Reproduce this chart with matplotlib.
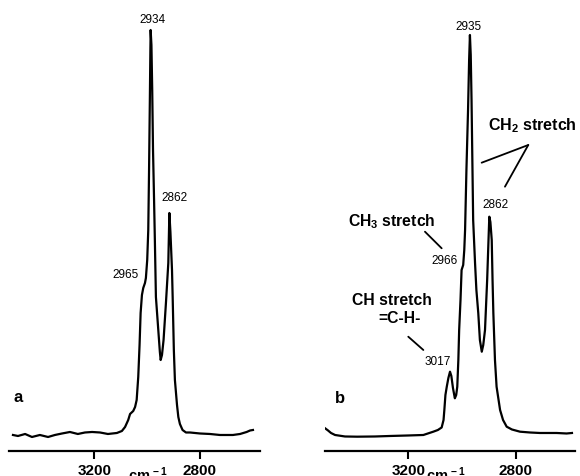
import matplotlib
matplotlib.use("Agg")
import matplotlib.pyplot as plt
from matplotlib.transforms import blended_transform_factory

plt.rcParams['font.family'] = ['Liberation Sans', 'DejaVu Sans']
plt.rcParams['mathtext.fontset'] = 'custom'
plt.rcParams['mathtext.rm'] = 'Liberation Sans:bold'
plt.rcParams['mathtext.bf'] = 'Liberation Sans:bold'
plt.rcParams['mathtext.default'] = 'rm'

# spectrum a: wavenumber (axis scale) and intensity (a.u.)
wn_a = [3509, 3490, 3463, 3437, 3407, 3376, 3350, 3323, 3293, 3263, 3236, 3209,
        3179, 3149, 3115, 3096, 3084, 3072, 3065, 3053, 3046, 3040, 3034, 3029,
        3025, 3020, 3015, 3008.5, 3005, 3000, 2996, 2993, 2990, 2988, 2987, 2984,
        2981, 2978, 2974, 2971, 2967, 2958, 2952, 2949, 2944, 2938, 2929, 2920,
        2916, 2912, 2906, 2903.5, 2899, 2895, 2887, 2882, 2876, 2866, 2853, 2838,
        2800, 2762, 2724, 2675, 2648, 2623, 2610, 2599]
int_a = [16.5, 15.5, 17.5, 14.5, 16.5, 14.5, 16.5, 18, 19.5, 17.5, 19, 19.5,
         19, 17.5, 18.5, 20.5, 24.5, 31.5, 37.5, 40.5, 44.5, 51.5, 74.5, 106.5,
         138.5, 156.5, 163.5, 168.5, 173.5, 191.5, 221.5, 281.5, 351.5, 401.5, 421.5, 406.5,
         361.5, 301.5, 251.5, 211.5, 154.5, 121.5, 99.5, 91.5, 96.5, 111.5, 148.5, 188.5,
         238.5, 219.5, 181.5, 154.5, 101.5, 71.5, 46.5, 34.5, 27.5, 21.5, 19, 19,
         18, 17.5, 16.5, 16.5, 17.5, 19.5, 21, 21.5]

# spectrum b
wn_b = [3509, 3498, 3487, 3472, 3435, 3390, 3324, 3268, 3201, 3144, 3107, 3090,
        3076, 3069, 3066, 3062, 3057, 3051, 3045, 3040, 3034, 3027, 3022, 3018,
        3014, 3011, 3006, 3002, 2996, 2992, 2989, 2984, 2978, 2974, 2971, 2968,
        2965, 2962, 2959, 2952, 2947, 2940, 2934, 2927, 2921.5, 2915, 2907, 2902,
        2899, 2895, 2890, 2887, 2884, 2878, 2872, 2859, 2848, 2834.5, 2815, 2785,
        2748, 2711, 2649, 2612, 2592]
int_b = [23.2, 21, 18.5, 16.5, 15, 14.8, 15, 15.5, 16, 16.5, 19.8, 21.5,
         24, 31.5, 41.5, 56.5, 64.8, 73.5, 79.8, 75.5, 63.5, 53.2, 56.5, 64.8,
         91.5, 121.5, 151.5, 181.5, 186.5, 201.5, 221.5, 281.5, 341.5, 391.5, 416.5, 396.5,
         351.5, 291.5, 231.5, 188.5, 161.5, 138.5, 111.5, 99.8, 106.5, 121.5, 171.5, 211.5,
         234.8, 229.5, 211.5, 171.5, 138.5, 91.5, 64.8, 41.5, 31.5, 24.8, 22, 19.8,
         19, 18.5, 18.5, 18, 18.5]

tick_pos = [3200, 2800]
tick_lbl = ['3200', '2800']

fig = plt.figure(figsize=(5.8, 4.76), dpi=100)
ax_a = fig.add_axes([0.016, 0.0515, 0.4322, 0.9485])
ax_b = fig.add_axes([0.5603, 0.0515, 0.431, 0.9485])


def style_axis(ax, xlim, cm_x):
    ax.set_xlim(*xlim)
    ax.set_ylim(0, 451.5)
    for s in ['top', 'left', 'right']:
        ax.spines[s].set_visible(False)
    ax.spines['bottom'].set_linewidth(1.6)
    ax.set_yticks([])
    ax.set_xticks(tick_pos)
    ax.set_xticklabels(tick_lbl, fontsize=11, fontweight='bold')
    ax.tick_params(axis='x', direction='out', length=6, width=1.5, pad=3)
    tr = blended_transform_factory(ax.transData, ax.transAxes)
    ax.text(cm_x, -0.03, r'cm$^{\,-1}$', transform=tr, ha='center', va='top',
            fontsize=10.5, fontweight='bold', clip_on=False)


# panel a
ax_a.plot(wn_a, int_a, color='black', lw=1.6)
style_axis(ax_a, (3523, 2572.5), 2997)
ax_a.text(2980, 431.5, '2934', ha='center', va='center', fontsize=8.5)
ax_a.text(2896, 253, '2862', ha='center', va='center', fontsize=8.5)
ax_a.text(3081, 176.5, '2965', ha='center', va='center', fontsize=8.5)
ax_a.text(3490, 53.5, 'a', ha='center', va='center', fontsize=12, fontweight='bold')

# panel b
ax_b.plot(wn_b, int_b, color='black', lw=1.6)
style_axis(ax_b, (3509.4, 2580.9), 3060)
ax_b.text(2978, 424.8, '2935', ha='center', va='center', fontsize=8.5)
ax_b.text(2875, 246.5, '2862', ha='center', va='center', fontsize=8.5)
ax_b.text(3064, 190.5, '2966', ha='center', va='center', fontsize=8.5)
ax_b.text(3091.5, 89.2, '3017', ha='center', va='center', fontsize=8.5)
ax_b.text(3452, 53, 'b', ha='center', va='center', fontsize=12, fontweight='bold')

ax_b.text(3423, 225, r'CH$_3$ stretch', ha='left', va='baseline', fontsize=11.3, fontweight='bold')
ax_b.text(3410, 146.5, 'CH stretch', ha='left', va='baseline', fontsize=11.3, fontweight='bold')
ax_b.text(3312.5, 128.5, '=C-H-', ha='left', va='baseline', fontsize=11.3, fontweight='bold')
ax_b.text(2903, 321.5, r'CH$_2$ stretch', ha='left', va='baseline', fontsize=11.5, fontweight='bold')

leader = dict(arrowstyle='-', color='black', lw=1.3, shrinkA=0, shrinkB=0)
ax_b.annotate('', xy=(3076, 203.2), xytext=(3138, 219.8), arrowprops=leader)
ax_b.annotate('', xy=(3144, 101.5), xytext=(3200, 114.8), arrowprops=leader)
ax_b.annotate('', xy=(2927.4, 288.8), xytext=(2754.3, 306.5), arrowprops=leader)
ax_b.annotate('', xy=(2840.9, 264.8), xytext=(2754.3, 306.5), arrowprops=leader)

fig.savefig('out.png', dpi=100)
